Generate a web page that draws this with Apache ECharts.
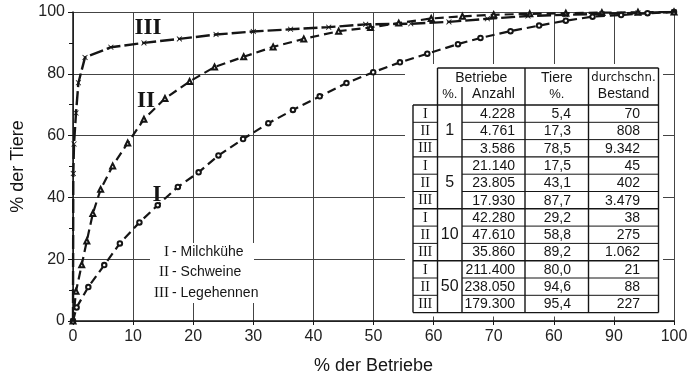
<!DOCTYPE html>
<html lang="de">
<head>
<meta charset="UTF-8">
<title>Konzentration der Tierhaltung</title>
<style>
    html, body { margin: 0; padding: 0; background: #fff; }
    #chart { width: 691px; height: 380px; }
</style>
</head>
<body>
<div id="chart"></div>
<script src="https://cdn.jsdelivr.net/npm/echarts@6/dist/echarts.min.js"></script>
<script>
// tick labels as printed (the original shows "60" where 80 belongs)
var xTickLabels = ['0', '10', '20', '30', '40', '50', '60', '70', '60', '90', '100'];

// I - Milchkühe
var xI = [0, 0.6, 2.55, 5.2, 7.8, 11.05, 14.1, 17.45, 20.9, 24.2, 28.3, 32.5, 36.6, 41.05, 45.5, 49.95, 54.4, 58.95, 64.05, 67.8, 72.8, 77.55, 82, 86.45, 91.2, 95.6, 100];
var yI = [0, 4.4, 11.0, 18.1, 25.1, 31.9, 37.5, 43.4, 48.1, 53.6, 58.9, 64.0, 68.3, 72.7, 77.0, 80.5, 83.7, 86.5, 89.6, 91.6, 93.8, 95.6, 97.2, 98.5, 99.0, 99.6, 100];
// II - Schweine
var xII = [0, 0.5, 1.45, 2.3, 3.3, 4.6, 6.6, 9.1, 11.8, 15.3, 19.4, 23.55, 28.4, 33.3, 38.4, 44.2, 49.5, 54.2, 59.6, 64.8, 70, 76, 82, 88, 94, 100];
var yII = [0, 9.6, 18.2, 25.9, 34.8, 42.6, 50.2, 57.6, 65.3, 72.0, 77.5, 82.2, 85.5, 88.7, 91.3, 93.8, 95.0, 96.4, 97.9, 98.6, 99.1, 99.4, 99.6, 99.8, 99.9, 100];
// III - Legehennen
var xIII = [0, 0.05, 0.17, 0.5, 0.9, 2, 6.3, 11.8, 17.7, 23.8, 30, 36.2, 42.55, 48.7, 56.2, 62.55, 68.95, 75.7, 82, 88, 94, 100];
var yIII = [0, 47.7, 57.3, 67.3, 77.1, 85.3, 88.6, 90.0, 91.3, 92.7, 93.7, 94.4, 95.1, 96.0, 96.2, 96.8, 97.8, 98.7, 99.1, 99.4, 99.7, 100];

// table
var tabGroups = ['1', '5', '10', '50'];
var tabRoman = ['I', 'II', 'III'];
var tabAnzahl = ['4.228', '4.761', '3.586', '21.140', '23.805', '17.930', '42.280', '47.610', '35.860', '211.400', '238.050', '179.300'];
var tabTiere = ['5,4', '17,3', '78,5', '17,5', '43,1', '87,7', '29,2', '58,8', '89,2', '80,0', '94,6', '95,4'];
var tabBestand = ['70', '808', '9.342', '45', '402', '3.479', '38', '275', '1.062', '21', '88', '227'];

var legendRoman = ['I', 'II', 'III'];
var legendNames = ['- Milchkühe', '- Schweine', '- Legehennen'];

function pairs(xs, ys) {
    return xs.map(function (x, i) { return [x, ys[i]]; });
}

var ink = '#151515';
var sans = '"Liberation Sans", Arial, sans-serif';
var serif = '"Liberation Serif", "DejaVu Serif", serif';

// ---- graphic: table + legend + curve labels ----
var g = [];
function line(x1, y1, x2, y2, w) {
    g.push({ type: 'line', z: 101, shape: { x1: x1, y1: y1, x2: x2, y2: y2 }, style: { stroke: ink, lineWidth: w || 1.4 } });
}
function txt(x, y, s, align, font) {
    g.push({ type: 'text', z: 102, x: x, y: y, style: { text: s, fill: ink, font: font, align: align, verticalAlign: 'middle' } });
}

var colX = [413, 437.5, 462, 525, 588.5, 658.5];
var tTop = 68, tHead = 105, rowH = 17.3;
var nRows = tabAnzahl.length;
var tBot = tHead + rowH * nRows;

g.push({ type: 'rect', z: 100, shape: { x: 405, y: 64, width: 258, height: tBot - 64 + 4 }, style: { fill: '#fff' } });
// outer / header lines
line(colX[1], tTop, colX[5], tTop);
line(colX[0], tHead, colX[5], tHead);
line(colX[0], tBot, colX[5], tBot);
line(colX[0], tHead, colX[0], tBot);
line(colX[1], tTop, colX[1], tBot);
line(colX[2], 87, colX[2], tBot);
line(colX[3], tTop, colX[3], tBot);
line(colX[4], tTop, colX[4], tBot);
line(colX[5], tTop, colX[5], tBot);
for (var r = 1; r < nRows; r++) {
    var yy = tHead + r * rowH;
    if (r % 3 === 0) {
        line(colX[0], yy, colX[5], yy);
    } else {
        line(colX[0], yy, colX[1], yy, 1);
        line(colX[2], yy, colX[5], yy, 1);
    }
}
txt((colX[1] + colX[3]) / 2, 78, 'Betriebe', 'center', '14px ' + sans);
txt((colX[1] + colX[2]) / 2, 94, '%.', 'center', '13px ' + sans);
txt((colX[2] + colX[3]) / 2, 94, 'Anzahl', 'center', '14px ' + sans);
txt((colX[3] + colX[4]) / 2, 78, 'Tiere', 'center', '14px ' + sans);
txt((colX[3] + colX[4]) / 2, 94, '%.', 'center', '13px ' + sans);
txt((colX[4] + colX[5]) / 2, 78, 'durchschn.', 'center', '13px "DejaVu Sans Condensed", ' + sans);
txt((colX[4] + colX[5]) / 2, 94, 'Bestand', 'center', '14px ' + sans);
for (var i = 0; i < nRows; i++) {
    var cy = tHead + (i + 0.5) * rowH + 0.5;
    txt((colX[0] + colX[1]) / 2, cy, tabRoman[i % 3], 'center', '14px ' + serif);
    txt(515, cy, tabAnzahl[i], 'right', '14px ' + sans);
    txt(571, cy, tabTiere[i], 'right', '14px ' + sans);
    txt(640, cy, tabBestand[i], 'right', '14px ' + sans);
}
tabGroups.forEach(function (s, k) {
    txt((colX[1] + colX[2]) / 2, tHead + (k * 3 + 1.5) * rowH, s, 'center', '16px ' + sans);
});

// legend block
g.push({ type: 'rect', z: 100, shape: { x: 150, y: 243, width: 104, height: 60 }, style: { fill: '#fff' } });
legendRoman.forEach(function (s, k) {
    txt(169, 252 + k * 20.5, s, 'right', '15px ' + serif);
    txt(172, 252 + k * 20.5, legendNames[k], 'left', '14px ' + sans);
});

// curve labels
txt(148, 28, 'III', 'center', 'bold 23px ' + serif);
txt(146, 101, 'II', 'center', 'bold 23px ' + serif);
txt(157, 195, 'I', 'center', 'bold 23px ' + serif);

var crossPath = 'path://M0,1L1,0L5,4L9,0L10,1L6,5L10,9L9,10L5,6L1,10L0,9L4,5Z';

var myChart = echarts.init(document.getElementById('chart'));
var option = {
    animation: false,
    backgroundColor: '#fff',
    grid: { left: 73, right: 17, top: 12, bottom: 44 },
    xAxis: {
        type: 'value', min: 0, max: 100, interval: 10,
        name: '% der Betriebe', nameLocation: 'middle', nameGap: 36,
        nameTextStyle: { fontFamily: sans, fontSize: 18, color: ink },
        axisLine: { lineStyle: { color: ink, width: 1.5 } },
        axisTick: { length: 4, lineStyle: { color: ink } },
        axisLabel: {
            fontFamily: sans, fontSize: 16, color: '#222', margin: 8,
            formatter: function (v) { return xTickLabels[Math.round(v / 10)]; }
        },
        splitLine: { lineStyle: { color: '#444', width: 1 } }
    },
    yAxis: {
        type: 'value', min: 0, max: 100, interval: 20,
        name: '% der Tiere', nameLocation: 'middle', nameGap: 39,
        nameTextStyle: { fontFamily: sans, fontSize: 18, color: ink },
        axisLine: { show: true, lineStyle: { color: ink, width: 1.5 } },
        axisTick: { show: true, length: 5, lineStyle: { color: ink } },
        minorTick: { show: true, splitNumber: 2, length: 4, lineStyle: { color: ink } },
        axisLabel: { fontFamily: sans, fontSize: 16, color: '#222', margin: 8 },
        splitLine: { lineStyle: { color: '#444', width: 1 } }
    },
    graphic: g,
    series: [
        {
            name: 'I - Milchkühe', type: 'line', data: pairs(xI, yI),
            symbol: 'emptyCircle', symbolSize: 4.5,
            lineStyle: { color: ink, width: 2.2, type: [9, 5] },
            itemStyle: { color: ink, borderWidth: 1.1 }
        },
        {
            name: 'II - Schweine', type: 'line', data: pairs(xII, yII),
            symbol: 'emptyTriangle', symbolSize: 5,
            lineStyle: { color: ink, width: 2.2, type: [9, 5] },
            itemStyle: { color: ink, borderWidth: 1.1 }
        },
        {
            name: 'III - Legehennen', type: 'line', data: pairs(xIII, yIII),
            symbol: crossPath, symbolSize: 5.5,
            lineStyle: { color: ink, width: 2.4, type: [14, 4] },
            itemStyle: { color: ink }
        }
    ]
};
myChart.setOption(option);
window.onresize = myChart.resize;
</script>
</body>
</html>
